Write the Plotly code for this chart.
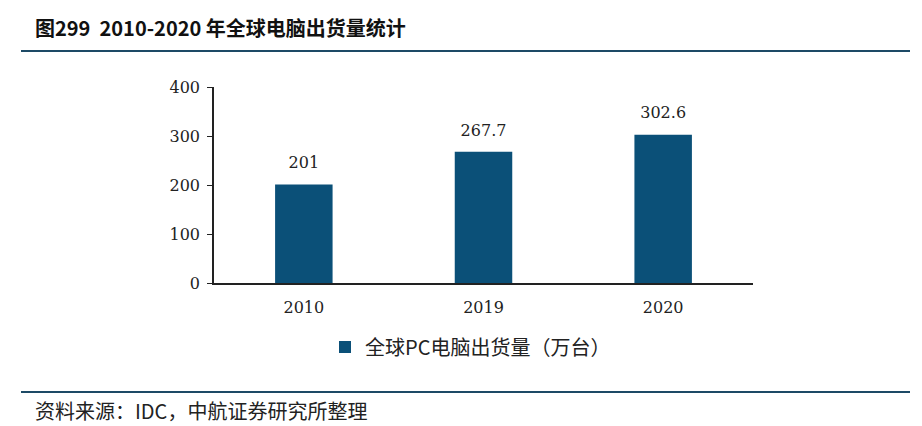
import plotly.graph_objects as go

years = ["2010", "2019", "2020"]
shipments = [201, 267.7, 302.6]
value_labels = ["201", "267.7", "302.6"]
series_name = "全球PC电脑出货量（万台）"
y_ticks = [0, 100, 200, 300, 400]

W, H = 922, 426
OFF = 8  # page body margin offset
L, R, T, B = 214 - OFF, 753 - OFF, 87 - OFF, 283 - OFF
pw, ph = R - L, B - T

def px_x(x):
    return (x - OFF - L) / pw

def px_y(y):
    return (B - (y - OFF)) / ph

num_font = "DejaVu Serif, Noto Sans CJK SC"
bar_color = "#0b5078"
line_color = "#1d4a66"

fig = go.Figure()
fig.add_trace(go.Bar(
    x=years, y=shipments, name=series_name,
    marker=dict(color=bar_color, line=dict(width=0)),
    width=0.32,
))
# value labels: invisible markers push the text above each bar top
fig.add_trace(go.Scatter(
    x=years, y=shipments, text=value_labels, mode="markers+text",
    textposition="top center", showlegend=False, hoverinfo="skip",
    marker=dict(size=18, opacity=0),
    textfont=dict(family=num_font, size=16, color="#222222"),
    cliponaxis=False,
))

fig.update_layout(
    width=W, height=H,
    margin=dict(l=L, r=W - R, t=T, b=H - B, pad=0),
    paper_bgcolor="white", plot_bgcolor="white",
    showlegend=True,
    legend=dict(orientation="h", x=px_x(325), y=px_y(347), xanchor="left", yanchor="middle",
                font=dict(family="Noto Sans CJK SC", size=20, color="#222222"),
                itemwidth=30, bgcolor="rgba(0,0,0,0)"),
    xaxis=dict(type="category", showline=True, linecolor="#222222", linewidth=1.5, ticks="",
               ticklabelstandoff=9,
               tickfont=dict(family=num_font, size=16, color="#222222"),
               showgrid=False, zeroline=False),
    yaxis=dict(range=[0, 400], tickvals=y_ticks, showline=True, linecolor="#222222", linewidth=1.5,
               ticks="outside", ticklen=5, tickcolor="#222222", tickwidth=1.2,
               ticklabelstandoff=4,
               tickfont=dict(family=num_font, size=16, color="#222222"),
               showgrid=False, zeroline=False),
)

fig.add_annotation(text="<b>图299  2010-2020 年全球电脑出货量统计</b>", xref="paper", yref="paper",
                   x=px_x(33), y=px_y(27), xanchor="left", yanchor="middle", showarrow=False,
                   font=dict(family="Noto Sans CJK SC", size=20, color="#111111"))
fig.add_annotation(text="资料来源：IDC，中航证券研究所整理", xref="paper", yref="paper",
                   x=px_x(33), y=px_y(411), xanchor="left", yanchor="middle", showarrow=False,
                   font=dict(family="Noto Sans CJK SC", size=20, color="#222222"))

for yy in (51, 392):
    fig.add_shape(type="line", xref="paper", yref="paper",
                  x0=px_x(21), x1=px_x(910), y0=px_y(yy), y1=px_y(yy),
                  line=dict(color=line_color, width=2))

fig.write_html("out.html")
